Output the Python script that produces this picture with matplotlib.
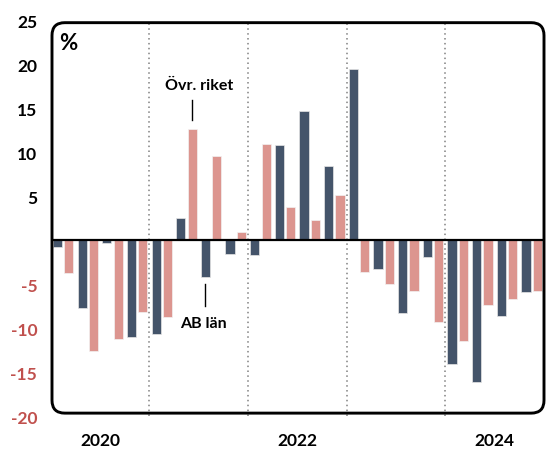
import matplotlib.pyplot as plt
from matplotlib.patches import FancyBboxPatch
import numpy as np

plt.rcParams['font.family'] = ['Lato', 'DejaVu Sans']

# quarterly change, %, 2020 Q1 .. 2024 Q4
ab_lan = [-0.9, -7.8, -0.4, -11.1,
          -10.7, 2.4, -4.3, -1.7,
          -1.8, 10.7, 14.6, 8.3,
          19.4, -3.3, -8.4, -2.0,
          -14.2, -16.2, -8.7, -6.0]
ovr_riket = [-3.8, -12.7, -11.3, -8.2,
             -8.8, 12.6, 9.5, 0.85,
             10.9, 3.7, 2.2, 5.1,
             -3.7, -5.0, -5.9, -9.4,
             -11.5, -7.4, -6.8, -5.9]
year_labels = ['2020', '2022', '2024']
year_pos = [2, 10, 18]
yticks = [25, 20, 15, 10, 5, -5, -10, -15, -20]

dark = '#44546a'
pink = '#dc958f'
red = '#c0504d'

fig = plt.figure(figsize=(5.46, 4.5), dpi=100)
ax = fig.add_axes([52 / 546, 34.5 / 450, 492 / 546, 396 / 450])

q = np.arange(len(ab_lan))
ax.bar(q + 0.27, ab_lan, width=0.37, color=dark, edgecolor='#e6e6e6', linewidth=0.5, zorder=2)
ax.bar(q + 0.73, ovr_riket, width=0.37, color=pink, edgecolor='#f2f2f2', linewidth=0.5, zorder=2)

ax.axhline(0, color='black', lw=1.6, zorder=3)
for x in [4, 8, 12, 16]:
    ax.axvline(x, color='#808080', lw=1.1, ls=(0, (1, 2.2)), zorder=1)

ax.set_xlim(0.05, 20.0)
ax.set_ylim(-20, 25)
ax.set_xticks([])
ax.set_yticks([])
for s in ax.spines.values():
    s.set_visible(False)

# rounded frame
w_px, h_px = 492, 396
frame = FancyBboxPatch((0, 0.006), 1, 0.986, boxstyle='round,pad=0,rounding_size=0.026',
                       mutation_aspect=w_px / h_px, transform=ax.transAxes,
                       fill=False, ec='black', lw=2.1, clip_on=False, zorder=5)
ax.add_patch(frame)

# y tick labels
for v in yticks:
    ax.text(-0.03, v - 0.35, str(v), transform=ax.get_yaxis_transform(), ha='right', va='center',
            fontsize=12.5, fontweight='bold', color='black' if v > 0 else red)

for x, lab in zip(year_pos, year_labels):
    ax.text(x, -22.9, lab, ha='center', va='center', fontsize=12.5, fontweight='bold')

ax.text(0.72, 22.3, '%', ha='center', va='center', fontsize=16, fontweight='bold')

# series labels
ax.text(6.0, 17.4, 'Övr. riket', ha='center', va='center', fontsize=11.5, fontweight='bold')
ax.plot([5.74, 5.74], [15.8, 13.6], color='black', lw=1.0)
ax.text(6.2, -9.6, 'AB län', ha='center', va='center', fontsize=11.5, fontweight='bold')
ax.plot([6.25, 6.25], [-5.1, -7.6], color='black', lw=1.0)

fig.savefig('out.png', dpi=100)
